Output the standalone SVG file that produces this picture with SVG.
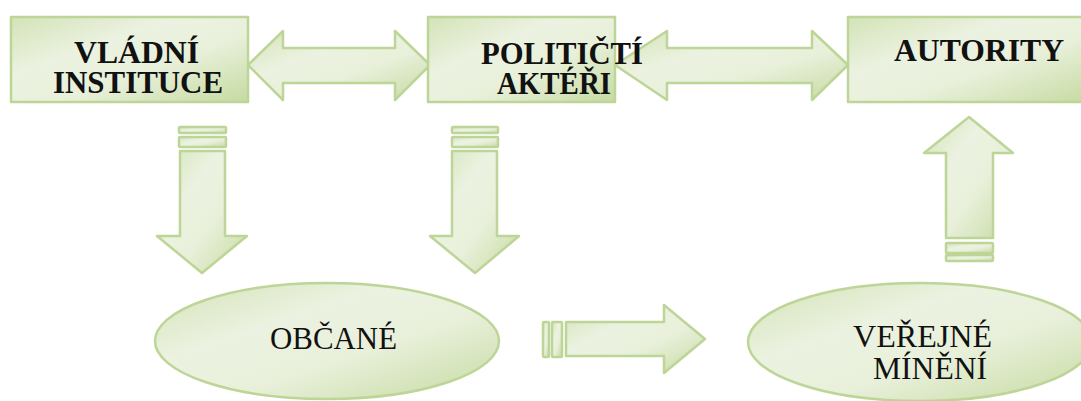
<svg xmlns="http://www.w3.org/2000/svg" width="1081" height="401" viewBox="0 0 1081 401">
<defs>
<linearGradient id="g" x1="0" y1="0" x2="1" y2="1">
<stop offset="0" stop-color="#d3e3b7"/>
<stop offset="0.35" stop-color="#ecf2e1"/>
<stop offset="0.6" stop-color="#e8f0da"/>
<stop offset="1" stop-color="#c6daa1"/>
</linearGradient>
<style>
.s{fill:url(#g);stroke:#bdd596;stroke-width:2.5;stroke-linejoin:round}
.b{font-family:"Liberation Serif","Times New Roman",serif;font-weight:bold;font-size:32px;fill:#111}
.r{font-family:"Liberation Serif","Times New Roman",serif;font-size:32px;fill:#111}
</style>
</defs>
<rect width="1081" height="401" fill="#fff"/>
<g id="connectors">
<polygon class="s" points="248,65 283,31 283,48 395,48 395,31 430,65 395,100 395,83 283,83 283,100"/>
<polygon class="s" points="615,65 667,31 667,48 812,48 812,31 848,65 812,100 812,83 667,83 667,100"/>
<g id="down1">
<rect class="s" x="179" y="127" width="47" height="6" rx="1"/>
<rect class="s" x="179" y="137" width="47" height="10" rx="1"/>
<polygon class="s" points="180,151 225,151 225,236 247,236 202,273 157,236 180,236"/>
</g>
<g id="down2">
<rect class="s" x="452" y="127" width="46" height="6" rx="1"/>
<rect class="s" x="452" y="137" width="46" height="10" rx="1"/>
<polygon class="s" points="452,151 497,151 497,236 519,236 475,273 430,236 452,236"/>
</g>
<g id="right1">
<rect class="s" x="543" y="322" width="6" height="35" rx="1"/>
<rect class="s" x="552" y="322" width="10" height="35" rx="1"/>
<polygon class="s" points="566,322 664,322 664,305 705,339 664,373 664,356 566,356"/>
</g>
<g id="up1">
<rect class="s" x="946" y="255" width="47" height="6" rx="1"/>
<rect class="s" x="946" y="243" width="47" height="10" rx="1"/>
<polygon class="s" points="946,238 993,238 993,153 1013,153 969,117 924,153 946,153"/>
</g>
</g>
<g id="vladni">
<rect class="s" x="11" y="17" width="237" height="85"/>
<text class="b" x="74" y="63" textLength="125" lengthAdjust="spacingAndGlyphs">VLÁDNÍ</text>
<text class="b" x="53" y="93" textLength="170" lengthAdjust="spacingAndGlyphs">INSTITUCE</text>
</g>
<g id="politicti">
<rect class="s" x="428" y="17" width="187" height="85"/>
<text class="b" x="481" y="64" textLength="162" lengthAdjust="spacingAndGlyphs">POLITIČTÍ</text>
<text class="b" x="497" y="94" textLength="114" lengthAdjust="spacingAndGlyphs">AKTÉŘI</text>
</g>
<g id="autority">
<rect class="s" x="848" y="17" width="245" height="85"/>
<text class="b" x="894" y="61" textLength="170" lengthAdjust="spacingAndGlyphs">AUTORITY</text>
</g>
<g id="obcane">
<ellipse class="s" cx="327" cy="341" rx="172" ry="58"/>
<text class="r" x="270" y="349" textLength="127" lengthAdjust="spacingAndGlyphs">OBČANÉ</text>
</g>
<g id="verejne">
<ellipse class="s" cx="920" cy="342" rx="172" ry="59"/>
<text class="r" x="853" y="347" textLength="139" lengthAdjust="spacingAndGlyphs">VEŘEJNÉ</text>
<text class="r" x="873" y="379" textLength="114" lengthAdjust="spacingAndGlyphs">MÍNĚNÍ</text>
</g>
</svg>
